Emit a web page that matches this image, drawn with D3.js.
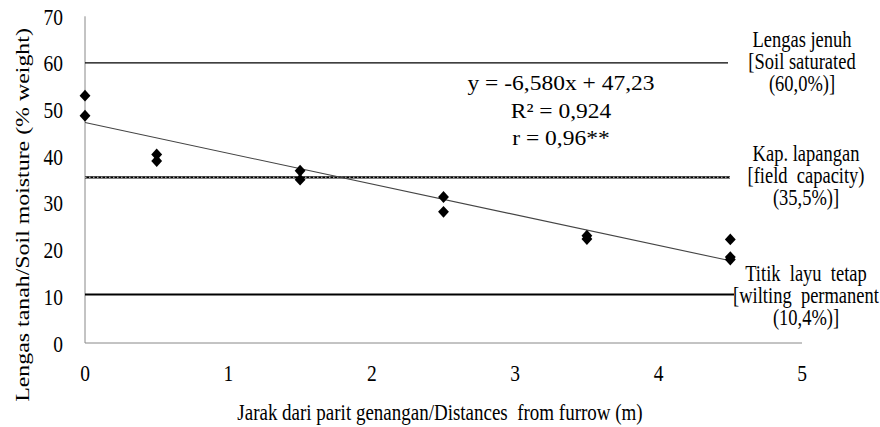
<!DOCTYPE html>
<html>
<head>
<meta charset="utf-8">
<script src="https://cdn.jsdelivr.net/npm/d3@7"></script>
<style>
  body { margin: 0; background: #fff; }
</style>
</head>
<body>
<svg id="chart" width="880" height="427"></svg>
<script>
// distances (m) and measured soil moisture (% weight)
const distances = [0, 0, 0.5, 0.5, 1.5, 1.5, 2.5, 2.5, 3.5, 3.5, 4.5, 4.5, 4.5]
const moisture = [53.0, 48.7, 40.4, 39.0, 36.9, 35.0, 31.3, 28.1, 23.0, 22.3, 22.2, 18.4, 17.9]

const xTicks = [0, 1, 2, 3, 4, 5]
const yTicks = [0, 10, 20, 30, 40, 50, 60, 70]

// regression y = -6.580x + 47.23
const slope = -6.580
const intercept = 47.23
const fitRange = [0, 4.5]

const refLevels = [60.0, 35.5, 10.4]
const refLabels = [
  ["Lengas jenuh", "[Soil saturated", "(60,0%)]"],
  ["Kap. lapangan", "[field  capacity)", "(35,5%)]"],
  ["Titik  layu  tetap", "[wilting  permanent", "(10,4%)]"]
]
const eqLines = ["y = -6,580x + 47,23", "R² = 0,924", "r = 0,96**"]

const serif = '"Liberation Serif", "Times New Roman", serif'
// the picture is a little stretched vertically
const sy = 1.2

let svg = d3.select("#chart")

let x = d3.scaleLinear().domain([0, 5]).range([85, 802])
let y = d3.scaleLinear().domain([0, 70]).range([343, 16.3])

function label(px, py, txt, size, anchor, stretch) {
  return svg.append("text")
    .attr("transform", `translate(${px},${py}) scale(1,${stretch || sy})`)
    .attr("text-anchor", anchor || "middle")
    .style("font-family", serif)
    .style("font-size", size + "px")
    .style("white-space", "pre")
    .style("fill", "#000")
    .text(txt)
}

// axis lines
svg.append("line")
  .attr("x1", x(0)).attr("x2", x(0))
  .attr("y1", y(70)).attr("y2", y(0))
  .style("stroke", "#888").style("stroke-width", 1)
svg.append("line")
  .attr("x1", x(0)).attr("x2", x(5))
  .attr("y1", y(0)).attr("y2", y(0))
  .style("stroke", "#888").style("stroke-width", 1)

for (let t of yTicks) {
  label(63, y(t) + 8.5, t, 19.5, "end")
}
for (let t of xTicks) {
  label(x(t), 381, t, 19.5)
}

// reference lines
svg.append("line")
  .attr("x1", x(0)).attr("x2", 728)
  .attr("y1", y(refLevels[0])).attr("y2", y(refLevels[0]))
  .style("stroke", "#000").style("stroke-width", 1.2)
svg.append("line")
  .attr("x1", x(0)).attr("x2", 730)
  .attr("y1", y(refLevels[1])).attr("y2", y(refLevels[1]))
  .style("stroke", "#000").style("stroke-width", 2.2)
svg.append("line")
  .attr("x1", x(0)).attr("x2", 730)
  .attr("y1", y(refLevels[1])).attr("y2", y(refLevels[1]))
  .style("stroke", "#fff").style("stroke-width", 0.8)
  .style("stroke-dasharray", "1.5,2.5")
svg.append("line")
  .attr("x1", x(0)).attr("x2", 734)
  .attr("y1", y(refLevels[2])).attr("y2", y(refLevels[2]))
  .style("stroke", "#000").style("stroke-width", 2)

// trend line
svg.append("line")
  .attr("x1", x(fitRange[0])).attr("y1", y(intercept + slope * fitRange[0]))
  .attr("x2", x(fitRange[1])).attr("y2", y(intercept + slope * fitRange[1]))
  .style("stroke", "#444").style("stroke-width", 1.1)

// points
let diamond = d3.symbol().type(d3.symbolDiamond2).size(75)
svg.selectAll(".pt")
  .data(distances)
  .join("path")
  .attr("class", "pt")
  .attr("d", diamond)
  .attr("transform", (d, i) => `translate(${x(d)},${y(moisture[i])}) scale(1,1.1)`)
  .style("fill", "#000")

// equation
eqLines.forEach((t, i) => label(561, 90 + i * 27.5, t, 23.5, "middle", 0.88))

// reference labels
let labelTops = [47, 161, 281]
let labelX = [802, 806, 806]
refLabels.forEach((lines, k) => {
  lines.forEach((t, i) => label(labelX[k], labelTops[k] + i * 22, t, 18.5))
})

// axis titles
label(440, 420, "Jarak dari parit genangan/Distances  from furrow (m)", 19)

svg.append("text")
  .attr("transform", `translate(29,215) scale(1,${sy * 1.02}) rotate(-90)`)
  .attr("text-anchor", "middle")
  .style("font-family", serif)
  .style("font-size", "19.5px")
  .text("Lengas tanah/Soil moisture (% weight)")
</script>
</body>
</html>
